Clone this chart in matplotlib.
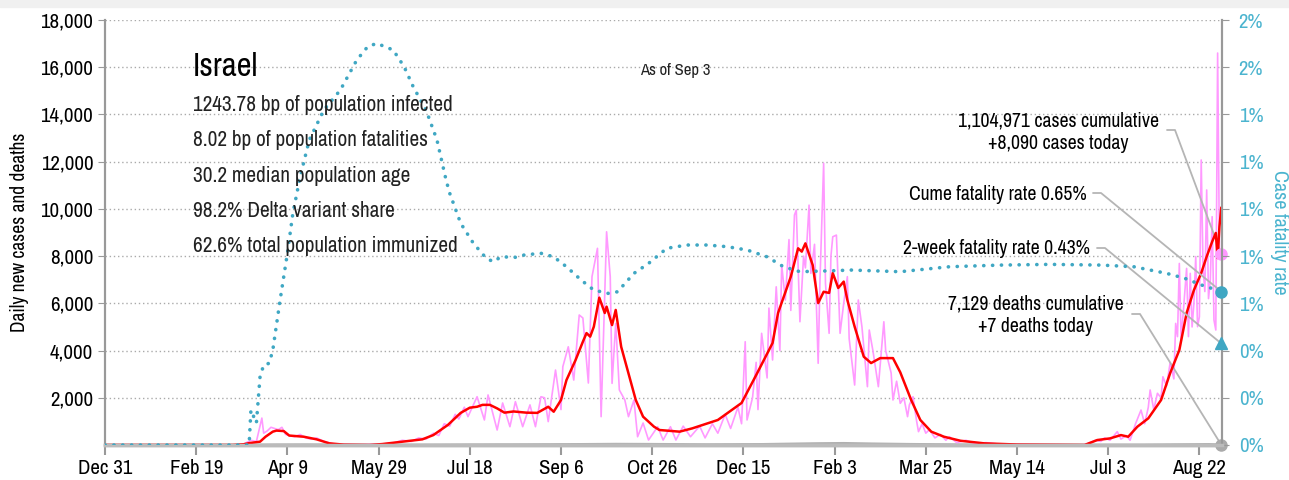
import numpy as np
import matplotlib
matplotlib.use("Agg")
import matplotlib.pyplot as plt
import matplotlib.dates as mdates
from matplotlib.ticker import PercentFormatter, FuncFormatter
from matplotlib.patches import Rectangle

plt.rcParams['font.family'] = ['Archivo Narrow', 'DejaVu Sans']

start = np.datetime64('2019-12-31')

# daily new cases (pink)
case_days = [0, 75, 80, 83, 86, 87, 89, 91, 93, 95, 97, 99, 101, 104, 107, 110, 113, 116, 120, 125, 130, 140,
             150, 158, 163, 168, 172, 176, 180, 183, 186, 189, 192, 194, 197, 199, 204, 208, 210, 215, 218,
             222, 225, 229, 233, 236, 239, 241, 243, 247, 250, 251, 254, 257, 260, 262, 265, 267, 270, 272,
             275, 277, 278, 280, 282, 285, 287, 290, 292, 295, 298, 303, 306, 310, 313, 317, 321, 326, 329,
             333, 336, 340, 343, 347, 349, 351, 352, 355, 357, 358, 360, 363, 364, 366, 368, 370, 371, 373,
             375, 376, 378, 379, 381, 383, 384, 386, 387, 389, 391, 392, 394, 395, 397, 398, 399, 401, 403,
             405, 407, 408, 411, 413, 415, 418, 419, 421, 424, 427, 428, 431, 432, 434, 436, 438, 440, 441,
             443, 445, 446, 448, 450, 452, 455, 458, 461, 463, 467, 472, 477, 483, 491, 502, 513, 524, 535,
             538, 540, 543, 546, 548, 551, 555, 557, 560, 562, 565, 568, 570, 572, 573, 575, 577, 579, 580,
             582, 584, 586, 587, 588, 589, 590, 592, 593, 594, 595, 596, 597, 598, 599, 600, 601, 602, 603,
             604, 605, 606, 607, 608, 609, 610, 611, 612]
case_vals = [0, 0, 200, 150, 1140, 500, 600, 750, 700, 650, 750, 450, 400, 350, 450, 300, 250, 300, 150, 50, 20, 10,
             30, 80, 200, 150, 300, 250, 500, 400, 900, 800, 1300, 1100, 1600, 1200, 2045, 1060, 2120, 635, 1780,
             775, 1835, 775, 1700, 775, 2045, 2000, 990, 3175, 1500, 3315, 4160, 2750, 5505, 5380, 2625, 7130, 8330, 1200,
             9030, 7130, 2610, 5150, 2330, 1905, 1200, 1905, 350, 930, 210, 775, 210, 775, 210, 800, 350, 800, 300,
             900, 500, 1300, 700, 1600, 900, 4375, 1060, 2000, 3500, 1500, 4730, 2840, 5800, 3600, 6700, 4000, 7620, 6140,
             8700, 5700, 9740, 9950, 5220, 8000, 7500, 10160, 7270, 8500, 3460, 7000, 11930, 6850, 4730, 8000, 8820, 8890, 4730,
             6000, 7130, 4500, 2540, 6140, 5000, 2470, 4870, 4000, 2470, 5220, 4000, 3050, 1905, 2700, 1765, 2000, 1200, 1700,
             2045, 1000, 565, 900, 500, 650, 300, 450, 200, 350, 100, 200, 60, 100, 30, 20, 10, 10, 5,
             30, 100, 200, 150, 300, 200, 565, 250, 400, 200, 900, 1480, 900, 1600, 2330, 1500, 2190, 2000, 2890,
             2500, 3500, 2800, 5150, 4590, 7690, 4450, 6500, 7480, 4590, 7270, 5000, 6000, 7980, 5010, 5430, 12070, 7500, 6500,
             10800, 6200, 7000, 9670, 5290, 4870, 16600, 8200, 8090]

# 7-day average (red)
avg_days = [0, 70, 76, 79, 85, 88, 92, 94, 98, 101, 109, 116, 123, 131, 145, 152, 163, 174, 180, 188, 195, 200,
            204, 207, 211, 215, 219, 224, 231, 237, 243, 246, 250, 253, 258, 262, 264, 266, 268, 271, 274, 275,
            278, 280, 283, 286, 291, 295, 301, 304, 315, 322, 336, 349, 357, 366, 369, 376, 380, 382, 384, 388,
            391, 394, 397, 399, 402, 405, 407, 411, 416, 420, 425, 432, 436, 442, 447, 453, 460, 469, 482, 500,
            537, 544, 551, 557, 561, 566, 572, 579, 584, 589, 593, 597, 601, 604, 607, 609, 610, 611, 612]
avg_vals = [0, 0, 30, 80, 140, 350, 565, 610, 590, 400, 350, 240, 70, 15, 0, 40, 140, 240, 420, 850, 1360, 1580,
            1620, 1700, 1700, 1550, 1370, 1420, 1370, 1360, 1620, 1410, 1905, 2750, 3600, 4375, 4740, 4590, 5010, 6240, 5590, 5860,
            5080, 5720, 4160, 3315, 1905, 1200, 775, 635, 565, 705, 1060, 1780, 2960, 4320, 5590, 7130, 8330, 8190, 8540, 7620,
            6010, 6490, 6440, 7280, 6650, 6920, 6140, 5010, 3740, 3470, 3680, 3680, 3080, 1905, 1060, 565, 350, 180, 70, 20,
            0, 210, 280, 420, 350, 775, 1130, 1905, 3050, 4020, 5590, 6560, 7280, 7980, 8610, 8980, 7920, 9250, 10040]

# daily deaths (gray)
death_days = [0, 80, 95, 110, 125, 150, 180, 200, 230, 260, 280, 300, 330, 360, 390, 405, 420, 440, 470, 500,
              540, 570, 590, 605, 612]
death_vals = [0, 0, 8, 10, 5, 1, 3, 10, 15, 25, 35, 30, 15, 25, 60, 70, 50, 30, 10, 2, 0, 2, 15, 25, 7]

# cume case fatality rate (teal dots, right axis)
cfr_days = [0, 79, 80, 83, 85, 87, 90, 92, 96, 100, 103, 107, 112, 120, 129, 138, 144, 149, 158, 164, 169, 176,
            182, 187, 189, 195, 202, 209, 213, 217, 225, 230, 239, 246, 253, 261, 268, 276, 281, 290, 298, 308,
            319, 330, 341, 352, 363, 372, 381, 399, 409, 436, 463, 491, 518, 546, 564, 582, 592, 601, 610, 612]
cfr_vals = [0, 0, 0.00148, 0.00093, 0.00289, 0.00339, 0.00346, 0.00402, 0.00614, 0.00812, 0.00981, 0.01136,
            0.01292, 0.01419, 0.01503, 0.0163, 0.01687, 0.01701, 0.01673, 0.01602, 0.01517, 0.01419, 0.01292,
            0.01122, 0.01066, 0.00939, 0.00854, 0.00791, 0.00776, 0.00797, 0.00795, 0.00805, 0.00812, 0.00797,
            0.00755, 0.00699, 0.00656, 0.00642, 0.00649, 0.00727, 0.00769, 0.00833, 0.00847, 0.00847, 0.0084,
            0.00826, 0.00797, 0.00755, 0.00734, 0.00738, 0.00741, 0.00734, 0.00755, 0.00762, 0.00765, 0.00762,
            0.00755, 0.00727, 0.00706, 0.00678, 0.00655, 0.0065]

two_week_cfr = 0.0043
cases_today = 8090
deaths_today = 7

info_lines = ["1243.78 bp of population infected", "8.02 bp of population fatalities",
              "30.2 median population age", "98.2% Delta variant share",
              "62.6% total population immunized"]

teal = '#3fa7c3'
teal_lbl = '#4bb4cf'
pink = '#ff99ff'


def to_dates(days):
    return start + np.array(days, dtype='timedelta64[D]')


fig = plt.figure(figsize=(12.89, 4.80), dpi=100)
fig.patches.append(Rectangle((0, 1 - 7 / 480), 1, 7 / 480, transform=fig.transFigure,
                             color='#f0f0f0', zorder=0))
ax = fig.add_axes([105 / 1289, 1 - 445 / 480, (1222 - 105) / 1289, 425 / 480])
ax2 = ax.twinx()

ax.plot(to_dates(death_days), death_vals, color='#b0b0b0', lw=2, zorder=2)
ax.plot(to_dates(case_days), case_vals, color=pink, lw=1.2, zorder=3)
ax.plot(to_dates(avg_days), avg_vals, color='red', lw=1.8, zorder=4)
ax2.plot(to_dates(cfr_days), cfr_vals, color=teal, lw=2.6, ls=(0, (0.05, 2.4)),
         dash_capstyle='round', zorder=5)

last = to_dates([612])
ax.plot(last, [cases_today], 'o', color=pink, ms=8, zorder=6, clip_on=False)
ax.plot(last, [deaths_today], 'o', color='#aaaaaa', ms=8, zorder=6, clip_on=False)
ax2.plot(last, [cfr_vals[-1]], 'o', color=teal, ms=8, zorder=6, clip_on=False)
ax2.plot(last, [two_week_cfr], '^', color=teal, ms=9, zorder=6, clip_on=False)

x0 = mdates.date2num(start)
ax.set_xlim(x0, x0 + 612.4)
ax.set_ylim(0, 18000)
ax2.set_ylim(0, 0.018)

ticks = to_dates(list(range(0, 601, 50)))
ax.set_xticks(ticks)
ax.set_xticklabels([f"{t.astype(object):%b} {t.astype(object).day}" for t in ticks], fontsize=15)
ax.set_yticks(range(2000, 18001, 2000))
ax.yaxis.set_major_formatter(FuncFormatter(lambda v, p: f"{int(v):,}"))
ax.tick_params(axis='y', labelsize=15, color='#999999', length=5)
ax.tick_params(axis='x', color='#999999', length=7, width=1.5, pad=3)
ax.grid(axis='y', color='#aaaaaa', ls=(0, (1, 2)), lw=1)
ax.set_ylabel("Daily new cases and deaths", fontsize=14, labelpad=8)

ax2.set_yticks(np.arange(0, 0.0181, 0.002))
ax2.yaxis.set_major_formatter(PercentFormatter(1, decimals=0))
ax2.tick_params(axis='y', labelsize=15, labelcolor=teal_lbl, color='#999999', length=5, pad=7)

for a in (ax, ax2):
    a.spines['top'].set_visible(False)
    a.spines['left'].set_color('#999999')
    a.spines['right'].set_color('#999999')
    a.spines['left'].set_linewidth(1.5)
    a.spines['right'].set_linewidth(1.5)
    a.spines['bottom'].set_color('#bbbbbb')
    a.spines['bottom'].set_linewidth(2.5)

def px(x, y):
    return x / 1289, 1 - y / 480

fig.text(*px(1279, 232), "Case fatality rate", fontsize=14.5, color=teal_lbl, rotation=270,
         ha='center', va='center')

fig.text(*px(193, 67), "Israel", fontsize=23.5, va='center', ha='left')
for i, line in enumerate(info_lines):
    fig.text(*px(193, 105 + i * 35.3), line, fontsize=15.3, va='center', ha='left', color='#222222')
fig.text(*px(675, 71), "As of Sep 3", fontsize=12, va='center', ha='center', color='#222222')

fig.text(*px(1058, 132), "1,104,971 cases cumulative\n+8,090 cases today", fontsize=14.2,
         ha='center', va='center', multialignment='center', linespacing=1.25)
fig.text(*px(1087, 194), "Cume fatality rate 0.65%", fontsize=14.2, ha='right', va='center')
fig.text(*px(1090, 249), "2-week fatality rate 0.43%", fontsize=14.2, ha='right', va='center')
fig.text(*px(1036, 315), "7,129 deaths cumulative\n+7 deaths today", fontsize=14.2,
         ha='center', va='center', multialignment='center', linespacing=1.25)

lead = dict(arrowstyle='-', color='#b5b5b5', lw=1.3, shrinkA=0, shrinkB=0,
            connectionstyle='arc,angleA=0,armA=8,angleB=0,armB=0,rad=0')
ax.annotate('', xy=(last[0], cases_today), xytext=(1167, 480 - 130), textcoords='figure pixels',
            arrowprops=lead)
ax2.annotate('', xy=(last[0], cfr_vals[-1]), xytext=(1093, 480 - 193), textcoords='figure pixels',
             arrowprops=lead)
ax2.annotate('', xy=(last[0], two_week_cfr), xytext=(1097, 480 - 248), textcoords='figure pixels',
             arrowprops=lead)
ax.annotate('', xy=(last[0], deaths_today), xytext=(1132, 480 - 314), textcoords='figure pixels',
            arrowprops=lead)

fig.savefig("out.png", dpi=100)
